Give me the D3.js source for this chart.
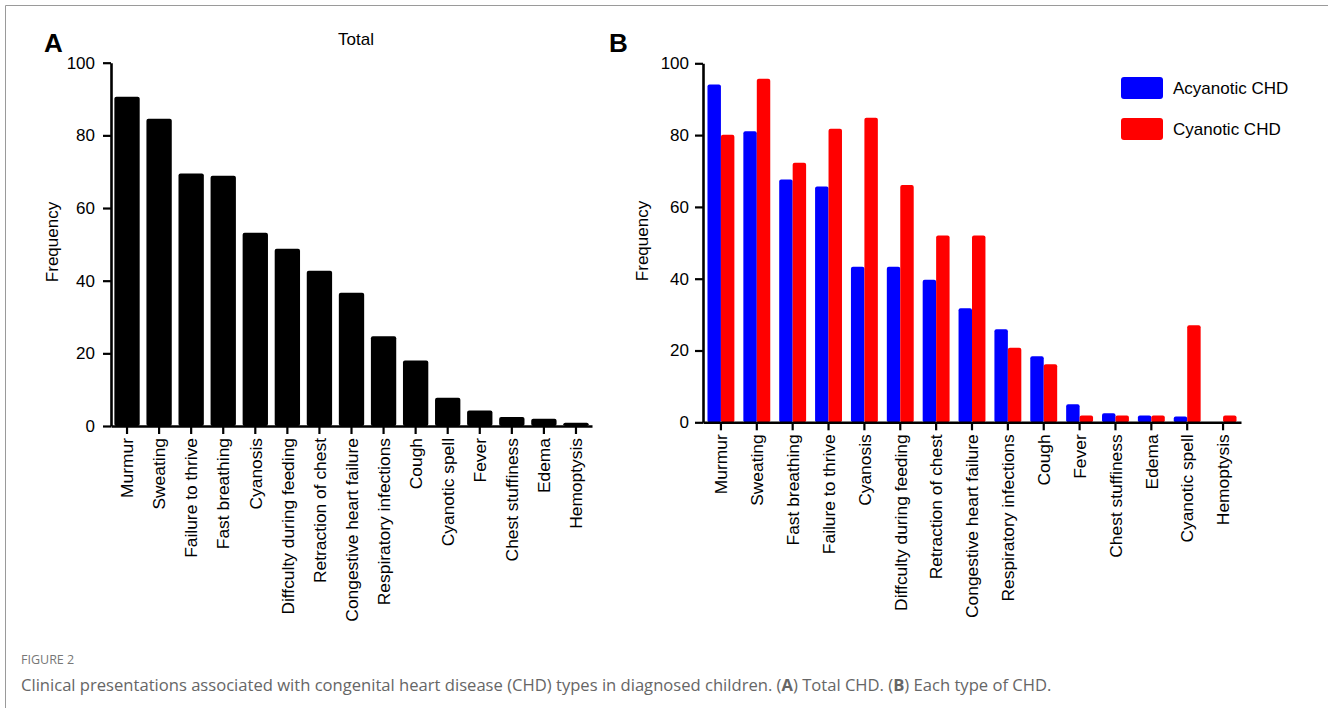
<!DOCTYPE html>
<html>
<head>
<meta charset="utf-8">
<script src="https://cdn.jsdelivr.net/npm/d3@7"></script>
<style>
  html, body { margin: 0; padding: 0; background: #fff; }
  svg { display: block; }
</style>
</head>
<body>
<div id="chart"></div>
<script>
// Figure 2 - clinical presentations by CHD type
// Panel A: total frequency per symptom, Panel B: acyanotic vs cyanotic

const categoriesA = [
  "Murmur", "Sweating", "Failure to thrive", "Fast breathing", "Cyanosis",
  "Diffculty during feeding", "Retraction of chest", "Congestive heart failure",
  "Respiratory infections", "Cough", "Cyanotic spell", "Fever",
  "Chest stuffiness", "Edema", "Hemoptysis"
];
const totalValues = [90.6, 84.6, 69.5, 68.9, 53.2, 48.8, 42.7, 36.7, 24.7, 18.0, 7.8, 4.3, 2.5, 2.0, 0.9];

const categoriesB = [
  "Murmur", "Sweating", "Fast breathing", "Failure to thrive", "Cyanosis",
  "Diffculty during feeding", "Retraction of chest", "Congestive heart failure",
  "Respiratory infections", "Cough", "Fever", "Chest stuffiness", "Edema",
  "Cyanotic spell", "Hemoptysis"
];
const acyanoticValues = [94.1, 81.1, 67.6, 65.7, 43.3, 43.3, 39.7, 31.8, 25.9, 18.4, 5.0, 2.5, 1.9, 1.6, 0];
const cyanoticValues  = [80.1, 95.7, 72.3, 81.8, 84.8, 66.1, 52.0, 52.0, 20.8, 16.2, 1.9, 1.9, 1.9, 27.0, 1.9];

const seriesNames  = ["Acyanotic CHD", "Cyanotic CHD"];
const seriesColors = ["#0000ff", "#ff0000"];
const yTicks = [0, 20, 40, 60, 80, 100];

const FONT = "'Liberation Sans', Arial, sans-serif";
const W = 1328, H = 708;

const svg = d3.select("#chart").append("svg")
  .attr("width", W).attr("height", H)
  .attr("viewBox", `0 0 ${W} ${H}`);

// page frame (top + left edge)
svg.append("path")
  .attr("d", `M5.5,${H} V5.5 H${W}`)
  .attr("fill", "none")
  .attr("stroke", "#9a9a9a")
  .attr("stroke-width", 1);

function styleAxis(g, width) {
  g.select(".domain").attr("stroke", "#000").attr("stroke-width", width);
  g.selectAll(".tick line").attr("stroke", "#000").attr("stroke-width", 2.2);
  g.selectAll("text")
    .attr("fill", "#000")
    .attr("font-family", FONT)
    .attr("font-size", "17px");
}

function drawYAxis(y, x0, padding) {
  const g = svg.append("g")
    .attr("transform", `translate(${x0},0)`)
    .call(d3.axisLeft(y).tickValues(yTicks).tickSize(8).tickSizeOuter(0).tickPadding(padding));
  styleAxis(g, 2.6);
  return g;
}

function drawXAxis(x, y0) {
  const g = svg.append("g")
    .attr("transform", `translate(0,${y0})`)
    .call(d3.axisBottom(x).tickSize(8).tickSizeOuter(0));
  styleAxis(g, 2.6);
  g.selectAll("text")
    .attr("font-size", "17.4px")
    .attr("transform", "rotate(-90)")
    .attr("text-anchor", "end")
    .attr("x", -12)
    .attr("y", 0)
    .attr("dy", "0.36em");
  return g;
}

function yLabel(x, y, text) {
  svg.append("text")
    .attr("transform", `translate(${x},${y}) rotate(-90)`)
    .attr("text-anchor", "middle")
    .attr("font-family", FONT)
    .attr("font-size", "17px")
    .text(text);
}

function panelLetter(x, y, text) {
  svg.append("text")
    .attr("x", x).attr("y", y)
    .attr("font-family", FONT)
    .attr("font-weight", "bold")
    .attr("font-size", "26px")
    .text(text);
}

// ---------- Panel A ----------
const xA = d3.scaleBand()
  .domain(categoriesA)
  .range([111, 592])
  .paddingInner(0.21)
  .paddingOuter(0.105);
const yA = d3.scaleLinear().domain([0, 100]).range([426, 62.7]);

svg.append("g").selectAll("rect")
  .data(totalValues)
  .join("rect")
    .attr("x", (d, i) => xA(categoriesA[i]))
    .attr("y", d => yA(d))
    .attr("width", xA.bandwidth())
    .attr("height", d => yA(0) - yA(d))
    .attr("rx", 2)
    .attr("fill", "#000");

drawYAxis(yA, 111, 8);
drawXAxis(xA, 426);
yLabel(58, 242, "Frequency");
panelLetter(44, 52, "A");

svg.append("text")
  .attr("x", 356).attr("y", 45)
  .attr("text-anchor", "middle")
  .attr("font-family", FONT)
  .attr("font-size", "17px")
  .text("Total");

// ---------- Panel B ----------
const xB = d3.scaleBand()
  .domain(categoriesB)
  .range([703, 1241])
  .paddingInner(0.25)
  .paddingOuter(0.125);
const xInner = d3.scaleBand().domain(seriesNames).range([0, xB.bandwidth()]);
const yB = d3.scaleLinear().domain([0, 100]).range([422.3, 63.3]);

const seriesValues = [acyanoticValues, cyanoticValues];
seriesNames.forEach((name, s) => {
  svg.append("g").selectAll("rect")
    .data(seriesValues[s])
    .join("rect")
      .attr("x", (d, i) => xB(categoriesB[i]) + xInner(name))
      .attr("y", d => yB(d))
      .attr("width", xInner.bandwidth())
      .attr("height", d => yB(0) - yB(d))
      .attr("rx", d => d > 0 ? 2 : 0)
      .attr("fill", seriesColors[s]);
});

drawYAxis(yB, 703, 6);
drawXAxis(xB, 422.3);
yLabel(648, 241, "Frequency");
panelLetter(609, 52, "B");

// legend
const legend = svg.append("g").attr("transform", "translate(1121,77)");
seriesNames.forEach((name, i) => {
  const row = legend.append("g").attr("transform", `translate(0,${i * 41})`);
  row.append("rect")
    .attr("width", 42).attr("height", 22)
    .attr("rx", 3)
    .attr("fill", seriesColors[i]);
  row.append("text")
    .attr("x", 52).attr("y", 11)
    .attr("dy", "0.36em")
    .attr("font-family", FONT)
    .attr("font-size", "17px")
    .text(name);
});

// ---------- caption ----------
const CAP_FONT = "'Open Sans', 'Noto Sans', sans-serif";
svg.append("text")
  .attr("x", 21).attr("y", 664)
  .attr("font-family", CAP_FONT)
  .attr("font-size", "12.5px")
  .attr("fill", "#777")
  .text("FIGURE 2");

const cap = svg.append("text")
  .attr("x", 21).attr("y", 691)
  .attr("font-family", CAP_FONT)
  .attr("font-size", "16.6px")
  .attr("fill", "#666");
cap.append("tspan").text("Clinical presentations associated with congenital heart disease (CHD) types in diagnosed children. (");
cap.append("tspan").attr("font-weight", "bold").text("A");
cap.append("tspan").text(") Total CHD. (");
cap.append("tspan").attr("font-weight", "bold").text("B");
cap.append("tspan").text(") Each type of CHD.");
</script>
</body>
</html>
